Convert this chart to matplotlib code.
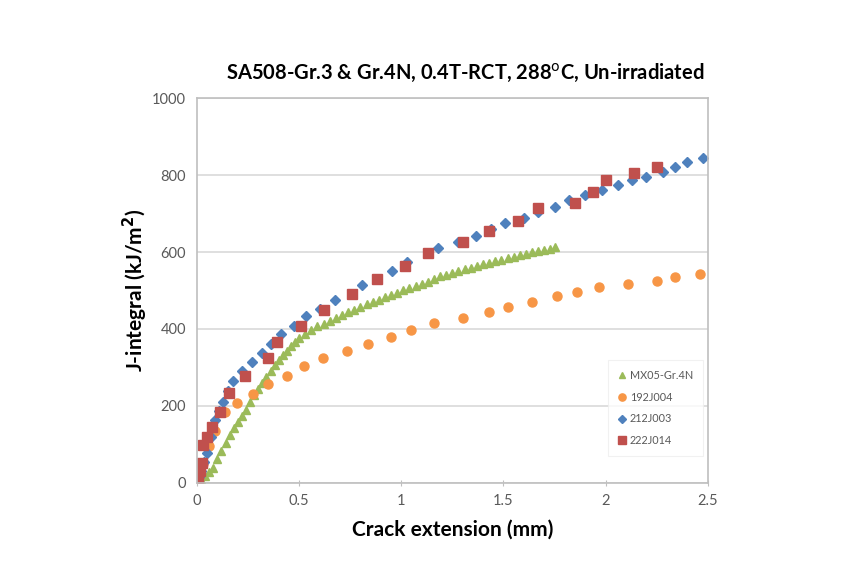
import matplotlib
matplotlib.use("Agg")
import matplotlib.pyplot as plt

plt.rcParams['font.family'] = ['Lato', 'DejaVu Sans']

# MX05-Gr.4N (triangles)
mx05_x = [0, 0.02, 0.04, 0.06, 0.08, 0.10, 0.12, 0.14, 0.16, 0.18, 0.20, 0.22, 0.24,
          0.26, 0.28, 0.30, 0.32, 0.34, 0.36, 0.38, 0.40, 0.42, 0.44, 0.46, 0.48, 0.50,
          0.53, 0.56, 0.59, 0.62, 0.65, 0.68, 0.71, 0.74, 0.77, 0.80, 0.83, 0.86, 0.89,
          0.92, 0.95, 0.98, 1.01, 1.04, 1.07, 1.10, 1.13, 1.16, 1.19, 1.22, 1.25, 1.28,
          1.31, 1.34, 1.37, 1.40, 1.43, 1.46, 1.49, 1.52, 1.55, 1.58, 1.61, 1.64, 1.67,
          1.70, 1.73, 1.75]
mx05_j = [0, 8, 18, 28, 40, 62, 84, 104, 124, 142, 158, 175, 190,
          210, 228, 243, 260, 276, 292, 307, 320, 332, 344, 355, 366, 376,
          388, 398, 407, 414, 421, 428, 436, 443, 450, 457, 464, 470, 476,
          482, 488, 494, 500, 506, 511, 517, 523, 530, 537, 541, 546, 550,
          555, 559, 564, 568, 572, 576, 580, 584, 588, 592, 595, 599, 602,
          606, 609, 612]

# 192J004 (circles)
s192_x = [0, 0.01, 0.03, 0.06, 0.09, 0.137, 0.196, 0.274, 0.347, 0.44, 0.523, 0.616,
          0.734, 0.837, 0.949, 1.047, 1.16, 1.30, 1.43, 1.52, 1.64, 1.76, 1.86, 1.97,
          2.11, 2.25, 2.34, 2.46]
s192_j = [0, 15, 50, 95, 135, 185, 209, 230, 256, 279, 303, 324,
          342, 360, 379, 397, 415, 428, 443, 457, 470, 486, 496, 509,
          517, 525, 535, 543]

# 212J003 (diamonds)
s212_x = [0, 0.01, 0.02, 0.035, 0.049, 0.068, 0.088, 0.107, 0.127, 0.15, 0.176, 0.22,
          0.27, 0.318, 0.36, 0.41, 0.475, 0.533, 0.6, 0.675, 0.807, 0.954, 1.03, 1.18,
          1.28, 1.365, 1.44, 1.51, 1.60, 1.67, 1.75, 1.82, 1.90, 1.98, 2.06, 2.13, 2.20,
          2.28, 2.34, 2.40, 2.475]
s212_j = [0, 15, 30, 55, 78, 120, 164, 188, 211, 238, 264, 290,
          313, 337, 360, 386, 407, 433, 452, 475, 514, 551, 574, 611,
          627, 642, 660, 676, 689, 703, 718, 736, 749, 760, 773, 786, 796,
          809, 822, 835, 843]

# 222J014 (squares)
s222_x = [0, 0.005, 0.015, 0.024, 0.03, 0.05, 0.075, 0.113, 0.155, 0.235, 0.347, 0.39,
          0.51, 0.62, 0.758, 0.88, 1.02, 1.13, 1.30, 1.43, 1.57, 1.67, 1.85, 1.94, 2.0,
          2.14, 2.25]
s222_j = [0, 13, 30, 52, 99, 120, 146, 185, 235, 279, 324, 366,
          407, 449, 491, 530, 564, 598, 627, 655, 681, 713, 728, 757, 786,
          804, 822]

x_ticks = [0, 0.5, 1, 1.5, 2, 2.5]
x_tick_labels = ['0', '0.5', '1', '1.5', '2', '2.5']
y_ticks = [0, 200, 400, 600, 800, 1000]

fig = plt.figure(figsize=(8.6, 5.62), dpi=100)
ax = fig.add_axes([0.229, 0.1406, 0.594, 0.685])

ax.plot(mx05_x, mx05_j, linestyle='none', marker='^', markersize=5.5,
        color='#9BBB59', label='MX05-Gr.4N')
ax.plot(s192_x, s192_j, linestyle='none', marker='o', markersize=6.5,
        color='#F79646', label='192J004')
ax.plot(s212_x, s212_j, linestyle='none', marker='D', markersize=5,
        color='#4F81BD', label='212J003')
ax.plot(s222_x, s222_j, linestyle='none', marker='s', markersize=6.5,
        color='#C0504D', label='222J014')

ax.set_xlim(0, 2.5)
ax.set_ylim(0, 1000)
ax.set_xticks(x_ticks)
ax.set_xticklabels(x_tick_labels)
ax.set_yticks(y_ticks)
ax.tick_params(axis='both', colors='#BFBFBF', labelcolor='#595959', labelsize=10.5,
               length=4)
ax.tick_params(axis='y', length=0, pad=8)
ax.tick_params(axis='x', direction='inout', pad=6)
ax.grid(axis='y', color='#D9D9D9', linewidth=1.2)
ax.set_axisbelow(True)
for sp in ax.spines.values():
    sp.set_color('#BFBFBF')
    sp.set_linewidth(1.2)

ax.set_xlabel('Crack extension (mm)', fontsize=15, fontweight='bold', labelpad=8)
ax.set_ylabel('J-integral (kJ/m$^{\\mathbf{2}}$)', fontsize=15, fontweight='bold',
              labelpad=1)

leg = ax.legend(loc='lower right', bbox_to_anchor=(0.99, 0.07), fontsize=7.8,
                frameon=True, fancybox=False, labelspacing=1.0, handlelength=0.8,
                handletextpad=0.3, borderpad=0.9, borderaxespad=0, markerscale=0.8)
leg.get_frame().set_edgecolor('#EEEEEE')
leg.get_frame().set_linewidth(0.8)
for t in leg.get_texts():
    t.set_color('#595959')

fig.text(0.541, 0.870, 'SA508-Gr.3 & Gr.4N, 0.4T-RCT, 288$^{\\mathrm{o}}$C, Un-irradiated',
         ha='center', va='center', fontsize=14.5, fontweight='bold')

fig.savefig('out.png', dpi=100)
